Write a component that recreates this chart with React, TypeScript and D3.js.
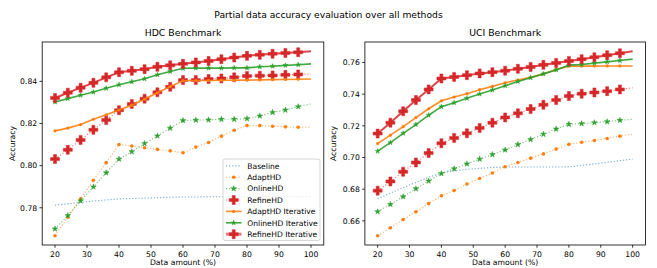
import React from "react";
import * as d3 from "d3";

const xValues = [20, 24, 28, 32, 36, 40, 44, 48, 52, 56, 60, 64, 68, 72, 76, 80, 84, 88, 92, 96, 100];
const xTicks = [20, 30, 40, 50, 60, 70, 80, 90, 100];

const seriesNames = ["Baseline", "AdaptHD", "OnlineHD", "RefineHD", "AdaptHD Iterative", "OnlineHD Iterative", "RefineHD Iterative"];

// HDC Benchmark
const hdcBaseline = [0.7812, 0.7819, 0.7826, 0.7832, 0.7837, 0.7842, 0.7844, 0.7846, 0.7848, 0.7850, 0.7851, 0.7851, 0.7852, 0.7852, 0.7852, 0.7852, 0.7852, 0.7853, 0.7853, 0.7853, 0.7853];
const hdcAdapt = [0.7667, 0.7755, 0.7842, 0.7930, 0.8014, 0.8100, 0.8093, 0.8085, 0.8077, 0.8070, 0.8061, 0.8088, 0.8110, 0.8140, 0.8168, 0.8190, 0.8190, 0.8187, 0.8184, 0.8182, 0.8182];
const hdcOnline = [0.7700, 0.7763, 0.7833, 0.7899, 0.7966, 0.8031, 0.8066, 0.8105, 0.8141, 0.8178, 0.8214, 0.8216, 0.8217, 0.8220, 0.8220, 0.8223, 0.8236, 0.8253, 0.8264, 0.8280, 0.8293];
const hdcRefine = [0.8031, 0.8075, 0.8122, 0.8170, 0.8216, 0.8263, 0.8293, 0.8318, 0.8348, 0.8374, 0.8406, 0.8406, 0.8411, 0.8414, 0.8419, 0.8425, 0.8427, 0.8428, 0.8431, 0.8433, 0.8435];
const hdcAdaptIter = [0.8165, 0.8178, 0.8195, 0.8220, 0.8241, 0.8264, 0.8287, 0.8315, 0.8346, 0.8375, 0.8403, 0.8404, 0.8404, 0.8405, 0.8405, 0.8406, 0.8407, 0.8408, 0.8409, 0.8410, 0.8411];
const hdcOnlineIter = [0.8302, 0.8318, 0.8334, 0.8349, 0.8367, 0.8384, 0.8398, 0.8412, 0.8431, 0.8447, 0.8462, 0.8463, 0.8463, 0.8463, 0.8464, 0.8464, 0.8469, 0.8472, 0.8476, 0.8479, 0.8483];
const hdcRefineIter = [0.8321, 0.8346, 0.8370, 0.8393, 0.8419, 0.8443, 0.8450, 0.8458, 0.8469, 0.8476, 0.8483, 0.8490, 0.8497, 0.8505, 0.8513, 0.8521, 0.8526, 0.8531, 0.8535, 0.8538, 0.8543];
const hdcYTicks = [0.78, 0.8, 0.82, 0.84];

// UCI Benchmark
const uciBaseline = [0.6740, 0.6775, 0.6810, 0.6843, 0.6875, 0.6903, 0.6916, 0.6925, 0.6932, 0.6937, 0.6940, 0.6940, 0.6940, 0.6940, 0.6940, 0.6941, 0.6950, 0.6960, 0.6970, 0.6980, 0.6990];
const uciAdapt = [0.6506, 0.6556, 0.6608, 0.6657, 0.6709, 0.6759, 0.6792, 0.6833, 0.6868, 0.6902, 0.6942, 0.6969, 0.6996, 0.7023, 0.7053, 0.7083, 0.7096, 0.7107, 0.7120, 0.7135, 0.7149];
const uciOnline = [0.6658, 0.6704, 0.6753, 0.6803, 0.6852, 0.6899, 0.6929, 0.6960, 0.6990, 0.7019, 0.7048, 0.7082, 0.7114, 0.7147, 0.7180, 0.7210, 0.7214, 0.7220, 0.7226, 0.7235, 0.7241];
const uciRefine = [0.6791, 0.6849, 0.6910, 0.6969, 0.7028, 0.7090, 0.7124, 0.7153, 0.7187, 0.7220, 0.7253, 0.7279, 0.7306, 0.7333, 0.7363, 0.7388, 0.7403, 0.7411, 0.7419, 0.7430, 0.7440];
const uciAdaptIter = [0.7088, 0.7141, 0.7195, 0.7252, 0.7308, 0.7358, 0.7382, 0.7403, 0.7428, 0.7449, 0.7472, 0.7489, 0.7506, 0.7528, 0.7556, 0.7577, 0.7577, 0.7577, 0.7578, 0.7578, 0.7578];
const uciOnlineIter = [0.7040, 0.7094, 0.7153, 0.7208, 0.7267, 0.7321, 0.7346, 0.7374, 0.7401, 0.7426, 0.7453, 0.7480, 0.7503, 0.7528, 0.7553, 0.7583, 0.7587, 0.7596, 0.7604, 0.7612, 0.7621];
const uciRefineIter = [0.7151, 0.7220, 0.7292, 0.7363, 0.7430, 0.7499, 0.7509, 0.7520, 0.7531, 0.7539, 0.7548, 0.7560, 0.7572, 0.7585, 0.7597, 0.7610, 0.7621, 0.7633, 0.7646, 0.7658, 0.7671];
const uciYTicks = [0.66, 0.68, 0.7, 0.72, 0.74, 0.76];

const W = 657;
const H = 268;
const FONT = "DejaVu Sans, sans-serif";

type Style = {
  color: string;
  dotted: boolean;
  width: number;
  opacity: number;
  marker: "none" | "dot" | "star" | "plus";
  msize: number;
};

const styles: Style[] = [
  { color: "#1f77b4", dotted: true, width: 1.15, opacity: 0.6, marker: "none", msize: 0 },
  { color: "#ff7f0e", dotted: true, width: 1.15, opacity: 0.6, marker: "dot", msize: 1.8 },
  { color: "#2ca02c", dotted: true, width: 1.15, opacity: 0.6, marker: "star", msize: 3.0 },
  { color: "#d62728", dotted: true, width: 1.15, opacity: 0.6, marker: "plus", msize: 9 },
  { color: "#ff7f0e", dotted: false, width: 1.6, opacity: 0.9, marker: "dot", msize: 1.6 },
  { color: "#2ca02c", dotted: false, width: 1.6, opacity: 0.9, marker: "star", msize: 2.6 },
  { color: "#d62728", dotted: false, width: 2.0, opacity: 0.85, marker: "plus", msize: 9 },
];

function markerPath(kind: string, s: number): string {
  if (kind === "plus") {
    const a = s / 6;
    const pts = [[-1, -3], [1, -3], [1, -1], [3, -1], [3, 1], [1, 1], [1, 3], [-1, 3], [-1, 1], [-3, 1], [-3, -1], [-1, -1]];
    return "M" + pts.map((p) => `${p[0] * a},${p[1] * a}`).join("L") + "Z";
  }
  if (kind === "star") {
    const pts: string[] = [];
    for (let i = 0; i < 10; i++) {
      const r = i % 2 === 0 ? s : s * 0.38;
      const ang = -Math.PI / 2 + (i * Math.PI) / 5;
      pts.push(`${r * Math.cos(ang)},${r * Math.sin(ang)}`);
    }
    return "M" + pts.join("L") + "Z";
  }
  return "";
}

function Marker({ st, x, y }: { st: Style; x: number; y: number }) {
  if (st.marker === "none") return null;
  if (st.marker === "dot") {
    return <circle cx={x} cy={y} r={st.msize} fill={st.color} />;
  }
  return <path d={markerPath(st.marker, st.msize)} transform={`translate(${x},${y})`} fill={st.color} stroke={st.color} strokeWidth={0.5} />;
}

type PanelProps = {
  title: string;
  series: number[][];
  yTicks: number[];
  left: number;
  right: number;
  yLabelX: number;
  legend: boolean;
};

function Panel({ title, series, yTicks, left, right, yLabelX, legend }: PanelProps) {
  const top = 42;
  const bottom = 245;
  const all = series.flat();
  const mn = d3.min(all) as number;
  const mx = d3.max(all) as number;
  const pad = (mx - mn) * 0.05;
  const x = d3.scaleLinear().domain([16, 104]).range([left, right]);
  const y = d3.scaleLinear().domain([mn - pad, mx + pad]).range([bottom, top]);
  const line = d3
    .line<number>()
    .x((_, i) => x(xValues[i]))
    .y((d) => y(d));
  const cx = (left + right) / 2;

  return (
    <g>
      <text x={cx} y={36} textAnchor="middle" fontSize={9.3} fontFamily={FONT} fill="#000">
        {title}
      </text>
      {series.map((vals, si) => {
        const st = styles[si];
        return (
          <g key={si}>
            <path
              d={line(vals) || ""}
              fill="none"
              stroke={st.color}
              strokeWidth={st.width}
              strokeOpacity={st.opacity}
              strokeDasharray={st.dotted ? "1.2,1.9" : undefined}
            />
            {vals.slice(0, vals.length - 1).map((v, i) => (
              <Marker key={i} st={st} x={x(xValues[i])} y={y(v)} />
            ))}
          </g>
        );
      })}
      <rect x={left} y={top} width={right - left} height={bottom - top} fill="none" stroke="#000" strokeWidth={0.8} />
      {xTicks.map((t) => (
        <g key={t}>
          <line x1={x(t)} x2={x(t)} y1={bottom} y2={bottom + 2.7} stroke="#000" strokeWidth={0.8} />
          <text x={x(t)} y={bottom + 11.5} textAnchor="middle" fontSize={7.7} fontFamily={FONT} fill="#000">
            {t}
          </text>
        </g>
      ))}
      {yTicks.map((t) => (
        <g key={t}>
          <line x1={left - 2.7} x2={left} y1={y(t)} y2={y(t)} stroke="#000" strokeWidth={0.8} />
          <text x={left - 5} y={y(t) + 2.8} textAnchor="end" fontSize={7.7} fontFamily={FONT} fill="#000">
            {t.toFixed(2)}
          </text>
        </g>
      ))}
      <text x={cx} y={265} textAnchor="middle" fontSize={7.7} fontFamily={FONT} fill="#000">
        Data amount (%)
      </text>
      <text
        transform={`translate(${yLabelX},${(top + bottom) / 2}) rotate(-90)`}
        textAnchor="middle"
        fontSize={7.7}
        fontFamily={FONT}
        fill="#000"
      >
        Accuracy
      </text>
      {legend && (
        <g>
          <rect x={223} y={159} width={97} height={81.5} rx={2} fill="#fff" fillOpacity={0.8} stroke="#cccccc" strokeWidth={0.8} />
          {seriesNames.map((name, i) => {
            const st = styles[i];
            const ly = 165.8 + i * 11.4;
            return (
              <g key={name}>
                <line
                  x1={226}
                  x2={241.5}
                  y1={ly}
                  y2={ly}
                  stroke={st.color}
                  strokeWidth={i === 6 ? 3 : st.width}
                  strokeOpacity={i === 6 ? 0.6 : st.opacity}
                  strokeDasharray={st.dotted ? "1.2,1.9" : undefined}
                />
                <Marker st={st} x={233.7} y={ly} />
                <text x={247.3} y={ly + 2.7} fontSize={7.6} fontFamily={FONT} fill="#000">
                  {name}
                </text>
              </g>
            );
          })}
        </g>
      )}
    </g>
  );
}

export default function App() {
  return (
    <svg width={W} height={H} style={{ position: "absolute", left: 0, top: 0, background: "#fff" }}>
      <rect x={0} y={0} width={W} height={H} fill="#fff" />
      <text x={328.5} y={18} textAnchor="middle" fontSize={9.2} fontFamily={FONT} fill="#000">
        Partial data accuracy evaluation over all methods
      </text>
      <Panel
        title="HDC Benchmark"
        series={[hdcBaseline, hdcAdapt, hdcOnline, hdcRefine, hdcAdaptIter, hdcOnlineIter, hdcRefineIter]}
        yTicks={hdcYTicks}
        left={42.2}
        right={323.8}
        yLabelX={15}
        legend={true}
      />
      <Panel
        title="UCI Benchmark"
        series={[uciBaseline, uciAdapt, uciOnline, uciRefine, uciAdaptIter, uciOnlineIter, uciRefineIter]}
        yTicks={uciYTicks}
        left={364.9}
        right={645.4}
        yLabelX={336}
        legend={false}
      />
    </svg>
  );
}
